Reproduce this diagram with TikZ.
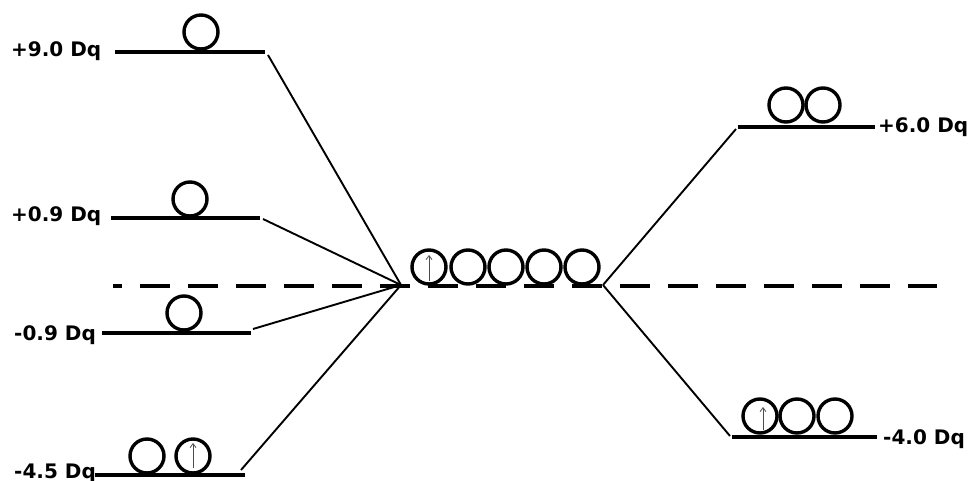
\documentclass[tikz,border=0pt]{standalone}
\usepackage{fontspec}
\setmainfont{DejaVu Sans}
\usetikzlibrary{arrows.meta}
\begin{document}
\begin{tikzpicture}[x=1pt,y=-1pt,
  level/.style={line width=3.8pt},
  conn/.style={line width=1.9pt},
  orb/.style={circle,draw,line width=3.4pt,minimum size=34pt,inner sep=0pt},
  spin/.style={line width=0.8pt,black!70,-{Straight Barb[length=4pt,width=6pt]}},
  lab/.style={font=\fontsize{20}{20}\selectfont\bfseries,inner sep=0pt},
  midline/.style={line width=3.6pt,dash pattern=on 30pt off 18pt,dash phase=21pt}]
\useasboundingbox (0,0) rectangle (969,481);

% barycentre line (dashed) through the centre
\draw[midline] (113,286) -- (937,286);

% centres of the splitting fans
\coordinate (cl) at (401,285);
\coordinate (cr) at (603,285);

% left-hand levels
\coordinate (a1) at (115,52);  \coordinate (a2) at (265,52);
\coordinate (b1) at (111,218); \coordinate (b2) at (260,218);
\coordinate (d1) at (102,333); \coordinate (d2) at (251,333);
\coordinate (e1) at (95,475);  \coordinate (e2) at (245,475);
\draw[level] (a1) -- (a2);
\draw[level] (b1) -- (b2);
\draw[level] (d1) -- (d2);
\draw[level] (e1) -- (e2);

\node[lab,anchor=base west] (ta) at (11,57)  {+9.0 Dq};
\node[lab,anchor=base west] (tb) at (11,222) {+0.9 Dq};
\node[lab,anchor=base west] (td) at (14,340) {-0.9 Dq};
\node[lab,anchor=base west] (te) at (14,478) {-4.5 Dq};

\node[orb] (oa)  at (201,32)  {};
\node[orb] (ob)  at (190,199) {};
\node[orb] (od)  at (184,313) {};
\node[orb] (oe1) at (147,456) {};
\node[orb] (oe2) at (193,456) {};
\draw[spin] (193,468) -- (193,443);

% connectors on the left
\draw[conn] (268,55) -- (cl);
\draw[conn] (263,219) -- (cl);
\draw[conn] (253,329) -- (cl);
\draw[conn] (241,470) -- (cl);

% five degenerate orbitals in the centre
\node[orb] (m1) at (429,267) {};
\node[orb] (m2) at (468,267) {};
\node[orb] (m3) at (506,267) {};
\node[orb] (m4) at (544,267) {};
\node[orb] (m5) at (582,267) {};
\draw[spin] (429,281) -- (429,255);

% right-hand levels
\coordinate (f1) at (738,127); \coordinate (f2) at (875,127);
\coordinate (g1) at (732,437); \coordinate (g2) at (877,437);
\draw[level] (f1) -- (f2);
\draw[level] (g1) -- (g2);

\node[lab,anchor=base west] (tf) at (878,133) {+6.0 Dq};
\node[lab,anchor=base west] (tg) at (883,444) {-4.0 Dq};

\node[orb] (of1) at (786,105) {};
\node[orb] (of2) at (823,105) {};
\node[orb] (og1) at (760,416) {};
\node[orb] (og2) at (797,416) {};
\node[orb] (og3) at (835,416) {};
\draw[spin] (763,430) -- (763,407);

% connectors on the right
\draw[conn] (cr) -- (736,129);
\draw[conn] (cr) -- (730,436);
\end{tikzpicture}
\end{document}
